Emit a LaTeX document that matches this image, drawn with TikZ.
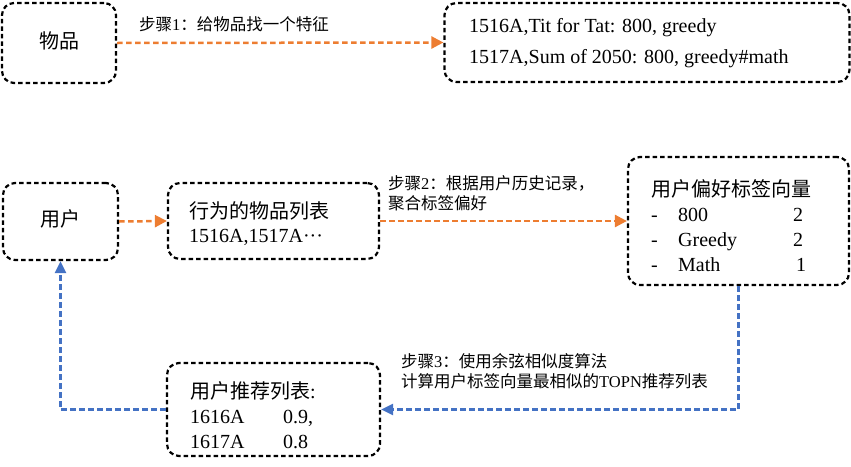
\documentclass[tikz,border=0pt]{standalone}
\usepackage{fontspec}
\setmainfont{Liberation Serif}
\newfontfamily\cjk{Noto Sans CJK SC}
\usetikzlibrary{arrows.meta}
\definecolor{orangeA}{HTML}{ED7D31}
\definecolor{blueA}{HTML}{4472C4}
\tikzset{
  box/.style={draw=black, line width=2.2pt, dash pattern=on 4.5pt off 3pt, rounded corners=12pt, inner sep=0pt},
  big/.style={font=\fontsize{20}{24}\selectfont, inner sep=0pt},
  lbl/.style={font=\fontsize{16.5}{20}\selectfont, inner sep=0pt, anchor=west},
  txt/.style={font=\fontsize{20}{24}\selectfont, inner sep=0pt, anchor=base west},
  oarrow/.style={draw=orangeA, line width=2.5pt, dash pattern=on 5.5pt off 3.5pt, -{Triangle[length=12pt,width=12pt]}},
  barrow/.style={draw=blueA, line width=2.2pt, dash pattern=on 5.5pt off 3.5pt, -{Triangle[length=12pt,width=11pt]}}
}
\begin{document}
\begin{tikzpicture}[x=1pt,y=-1pt]
\useasboundingbox (0,0) rectangle (851,466);
% boxes
\node[box, minimum width=114pt, minimum height=80pt] (wu) at (59,43) {};
\node[big] (wut) at (59,41) {\cjk 物品};
\node[box, minimum width=405pt, minimum height=79pt] (tags) at (647,42.5) {};
\node[txt] (tag1) at (469,32) {1516A,Tit for Tat: 800, greedy};
\node[txt] (tag2) at (469,63) {1517A,Sum of 2050: 800, greedy\#math};

\node[box, minimum width=115pt, minimum height=77pt] (user) at (60.5,221.5) {};
\node[big] (usert) at (60,218.5) {\cjk 用户};

\node[box, minimum width=211pt, minimum height=76pt] (hist) at (273.5,221) {};
\node[big, anchor=west] (hist1) at (189,211) {\cjk 行为的物品列表};
\node[txt] (hist2) at (189,242.5) {1516A,1517A\textperiodcentered\textperiodcentered\textperiodcentered};

\node[box, minimum width=221pt, minimum height=128pt] (pref) at (738.5,221) {};
\node[big, anchor=west] (pref0) at (651,189) {\cjk 用户偏好标签向量};
\node[txt] (pd1) at (651,221) {-};
\node[txt] (pv1) at (678,221) {800};
\node[txt] (pn1) at (793,221) {2};
\node[txt] (pd2) at (651,246.5) {-};
\node[txt] (pv2) at (678,246.5) {Greedy};
\node[txt] (pn2) at (793,246.5) {2};
\node[txt] (pd3) at (651,271.5) {-};
\node[txt] (pv3) at (678,271.5) {Math};
\node[txt] (pn3) at (796,271.5) {1};

\node[box, minimum width=213pt, minimum height=93pt] (rec) at (273.5,409.5) {};
\node[big, anchor=west] (rec0) at (190,391) {{\cjk 用户推荐列表}:};
\node[txt] (r1a) at (190,423) {1616A};
\node[txt] (r1b) at (283,423) {0.9,};
\node[txt] (r2a) at (190,448) {1617A};
\node[txt] (r2b) at (283,448) {0.8};

% labels
\node[lbl] (l1) at (139,24) {{\cjk 步骤}1{\cjk ：给物品找一个特征}};
\node[lbl] (l2a) at (388,183.5) {{\cjk 步骤}2{\cjk ：根据用户历史记录，}};
\node[lbl] (l2b) at (388,203.5) {\cjk 聚合标签偏好};
\node[lbl] (l3a) at (401,361) {{\cjk 步骤}3{\cjk ：使用余弦相似度算法}};
\node[lbl] (l3b) at (401,381.5) {{\cjk 计算用户标签向量最相似的}TOPN{\cjk 推荐列表}};

% connectors
\draw[oarrow] (wu.east) -- (tags.west);
\draw[oarrow] (user.east) -- (hist.west);
\draw[oarrow] (hist.east) -- (pref.west);
\draw[barrow] (pref.south) |- (rec.east);
\draw[barrow] (rec.west) -| (user.south);
\end{tikzpicture}
\end{document}
